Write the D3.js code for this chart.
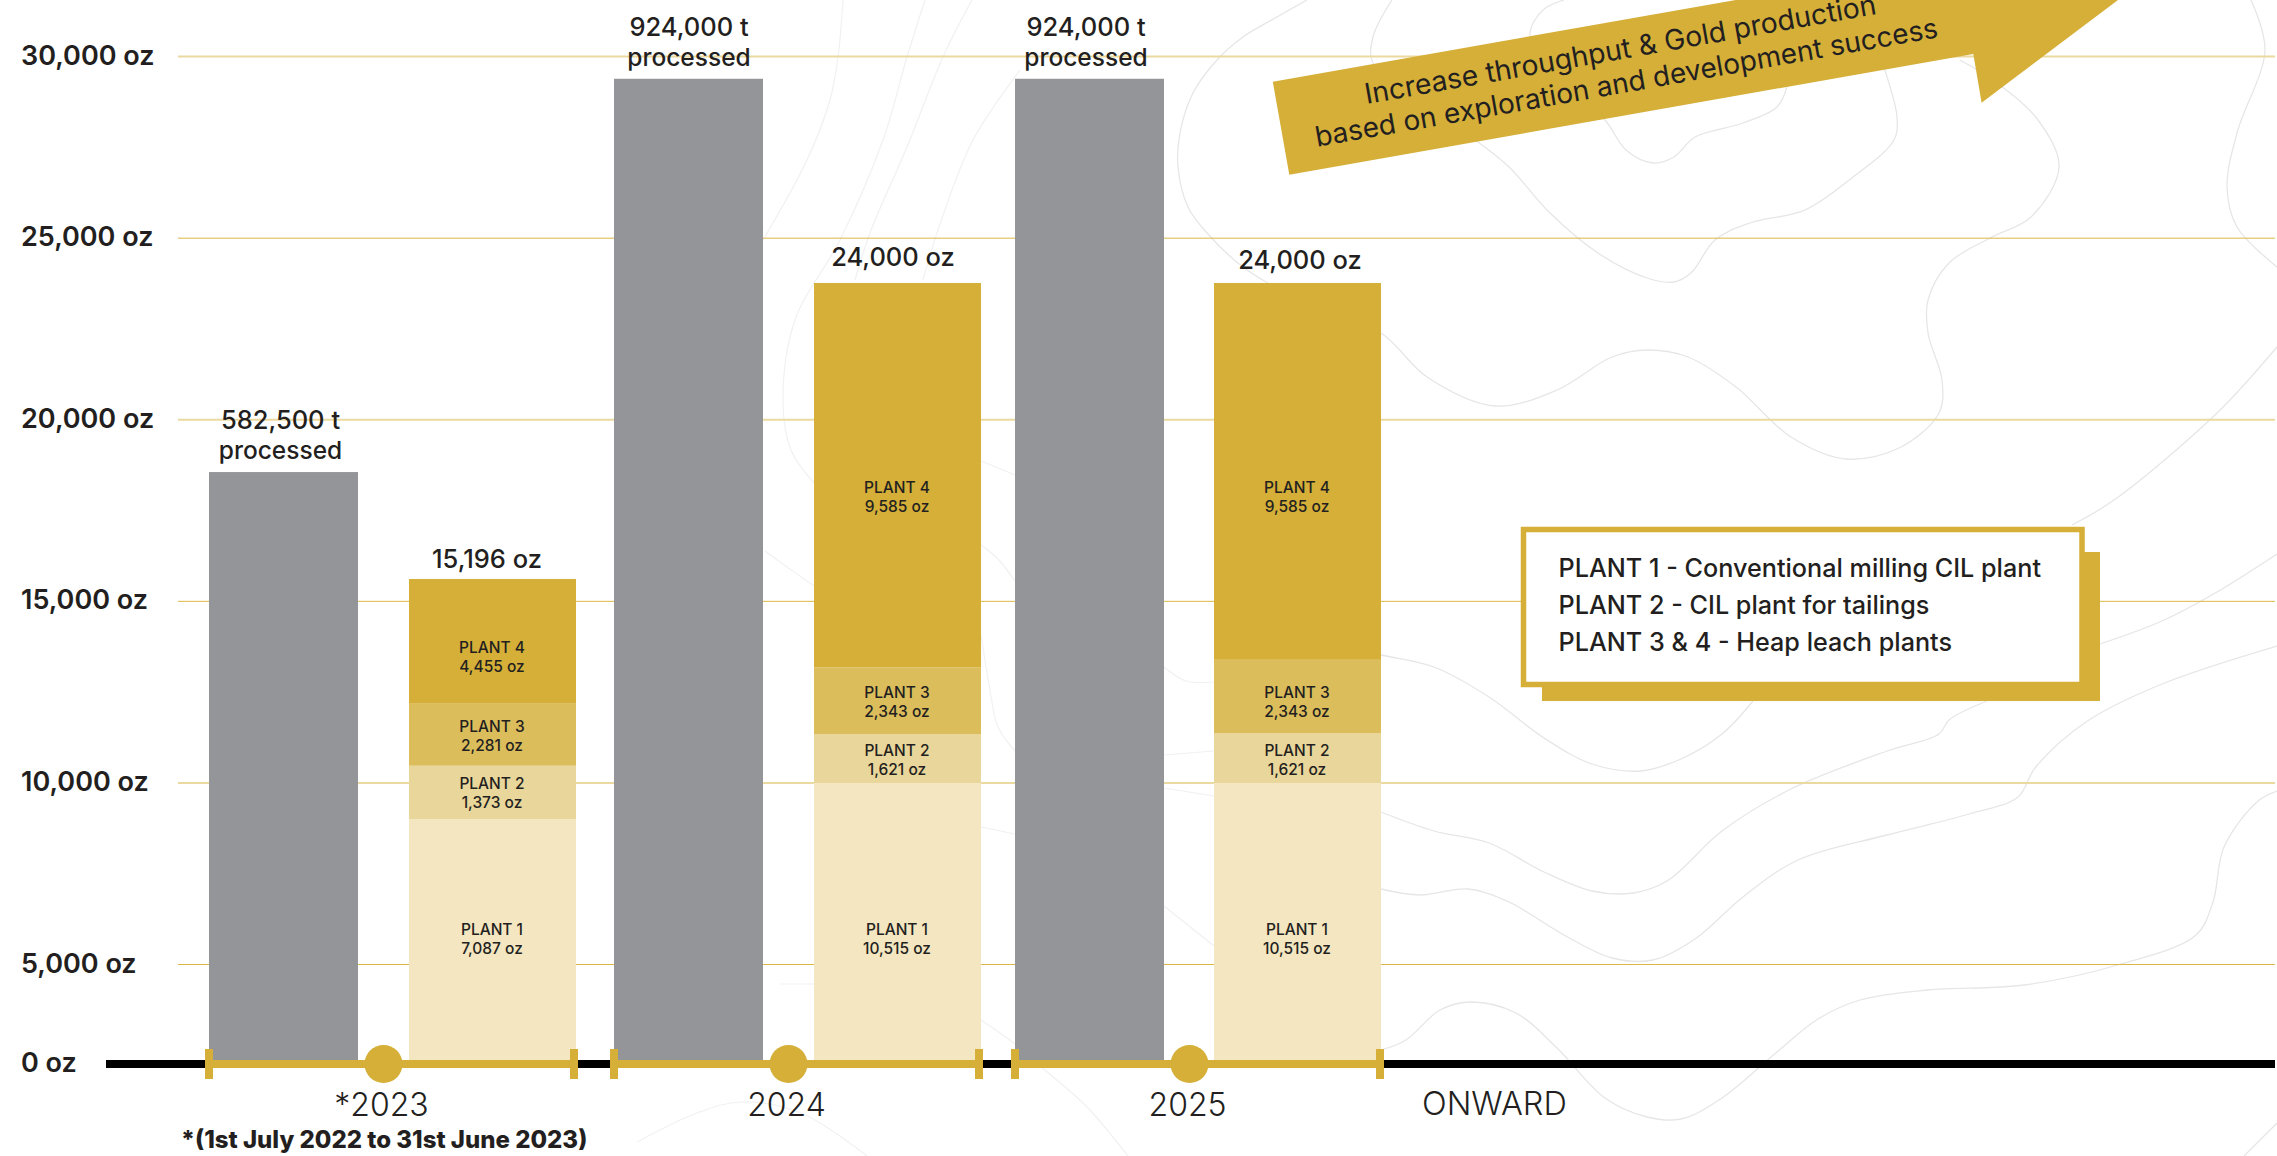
<!DOCTYPE html>
<html>
<head>
<meta charset="utf-8">
<script src="https://cdn.jsdelivr.net/npm/d3@7"></script>
<style>
  html, body { margin: 0; padding: 0; background: #fff; }
  svg { display: block; }
  text { font-family: Inter, "Open Sans", sans-serif; fill: #231f20; }
</style>
</head>
<body>
<script>
var years = ['*2023', '2024', '2025'];
var yTicks = [0, 5000, 10000, 15000, 20000, 25000, 30000];
var plantKeys = ['PLANT 1', 'PLANT 2', 'PLANT 3', 'PLANT 4'];

// the numbers printed in the chart
var tonnes = [582500, 924000, 924000];
var totalOz = [15196, 24000, 24000];
var plant1Oz = [7087, 10515, 10515];
var plant2Oz = [1373, 1621, 1621];
var plant3Oz = [2281, 2343, 2343];
var plant4Oz = [4455, 9585, 9585];

// the bars in the picture are not to scale with their labels,
// so these are the heights as read against the gridlines
var tonnesDrawn = [18560, 29390, 29390];
var plant1Drawn = [9007, 10003, 10003];
var plant2Drawn = [1467, 1344, 1371];
var plant3Drawn = [1707, 1834, 2016];
var plant4Drawn = [3434, 10585, 10376];

var keyLines = [
  'PLANT 1 - Conventional milling CIL plant',
  'PLANT 2 - CIL plant for tailings',
  'PLANT 3 & 4 - Heap leach plants'
];

// background topo lines, page pixels
var contours = [
  [[1307,0],[1277,17],[1243,37],[1217,60],[1193,93],[1180,133],[1178,167],[1188,207],[1207,233],[1243,267],[1300,300],[1381,333],[1427,377],[1495,406],[1557,390],[1612,357],[1647,350],[1688,357],[1736,387],[1791,437],[1846,459],[1901,447],[1939,413],[1942,380],[1928,333],[1928,300],[1949,263],[1990,238],[2031,217],[2059,167],[2038,120],[1997,83],[1960,60]],
  [[1392,0],[1373,37],[1373,63],[1420,100],[1478,142],[1509,167],[1550,213],[1598,253],[1647,278],[1674,282],[1691,273],[1715,240],[1750,223],[1805,210],[1853,177],[1894,140],[1897,117],[1884,67],[1875,40]],
  [[1564,0],[1543,10],[1530,33],[1540,60],[1570,90],[1605,120],[1626,150],[1653,163],[1674,157],[1695,137],[1743,123],[1777,107],[1787,87]],
  [[2251,0],[2265,50],[2237,133],[2227,187],[2237,227],[2277,267]],
  [[2277,347],[2217,413],[2114,500],[2072,525]],
  [[1300,640],[1381,655],[1434,667],[1489,697],[1544,738],[1592,764],[1640,771],[1681,759],[1722,734],[1753,701]],
  [[1381,812],[1434,831],[1489,843],[1544,872],[1592,891],[1633,893],[1667,881],[1722,831],[1791,789],[1887,751],[1939,734],[1949,720],[1987,701]],
  [[1381,889],[1420,895],[1468,889],[1509,902],[1564,935],[1612,958],[1653,960],[1695,939],[1743,897],[1798,860],[1887,835],[1969,814],[2018,797],[2035,768],[2086,722],[2162,684],[2277,646]],
  [[1381,1050],[1406,1040],[1440,1010],[1471,1002],[1516,1013],[1557,1048],[1605,1098],[1647,1117],[1681,1119],[1722,1098],[1777,1052],[1818,1019],[1860,1000],[1928,990],[2024,985],[2121,964],[2196,935],[2213,902],[2224,847],[2258,801],[2277,791]],
  [[2100,644],[2162,621],[2217,592],[2277,554]],
  [[2277,1123],[2244,1156]]
];

// the much paler lines between the bars
var faintContours = [
  [[843,0],[838,57],[830,100],[807,160],[763,240]],
  [[925,0],[907,57],[883,140],[840,240],[795,320],[783,402],[791,450],[814,483]],
  [[972,0],[943,57],[907,147],[870,233],[855,280]],
  [[1020,70],[973,140],[937,233],[923,280]],
  [[981,461],[1015,475]],
  [[981,545],[998,559],[1015,581]],
  [[981,635],[989,684],[998,727],[1015,751]],
  [[981,827],[1015,834]],
  [[981,1020],[1015,1044],[1045,1070],[1087,1107],[1128,1156]],
  [[1164,667],[1186,681],[1214,682]],
  [[1164,755],[1214,751]],
  [[1164,788],[1214,796]],
  [[1164,906],[1214,946]],
  [[765,551],[780,562],[814,586]],
  [[780,984],[814,984]],
  [[637,1142],[697,1113],[741,1102],[801,1113],[867,1156]]
];

var width = 2277;
var height = 1156;
var gold = '#d5af38';
var plantFill = d3.scaleOrdinal().domain(plantKeys).range(['#f3e6c0', '#e9d69a', '#dcbd5c', gold]);

// 0 oz sits closer to 5,000 oz than the other gridlines do to each other
var y = d3.scaleLinear().domain([0, 5000, 30000]).range([1064, 964.5, 56.6]);
var x = d3.scaleOrdinal().domain(years).range([209, 614, 1015]);
var xStack = d3.scaleOrdinal().domain(years).range([409, 814, 1214]);
var grayWidth = 149;
var stackWidth = 167;

var svg = d3.select('body').append('svg')
  .attr('width', width)
  .attr('height', height);

var line = d3.line().curve(d3.curveCatmullRom.alpha(0.5));
svg.append('g').selectAll('path').data(faintContours).enter().append('path')
  .attr('d', line)
  .attr('fill', 'none')
  .attr('stroke', '#f1f1f1')
  .attr('stroke-width', 1.2);
svg.append('g').selectAll('path').data(contours).enter().append('path')
  .attr('d', line)
  .attr('fill', 'none')
  .attr('stroke', '#e6e6e6')
  .attr('stroke-width', 1.3);

// gridlines
svg.append('g').selectAll('line').data(yTicks.slice(1)).enter().append('line')
  .attr('x1', 178)
  .attr('x2', 2275)
  .attr('y1', y)
  .attr('y2', y)
  .attr('stroke', function(d, i) { return i % 2 ? '#ebdaa0' : '#dcb746'; })
  .attr('stroke-width', function(d, i) { return i % 2 ? 2 : 1; });

svg.append('g').selectAll('text').data(yTicks).enter().append('text')
  .attr('x', 21)
  .attr('y', function(d) { return y(d) + 8; })
  .attr('font-size', 27)
  .attr('font-weight', 600)
  .text(function(d) { return d3.format(',')(d) + ' oz'; });

// tonnes bars
svg.append('g').selectAll('rect').data(years).enter().append('rect')
  .attr('x', x)
  .attr('width', grayWidth)
  .attr('y', function(d, i) { return y(tonnesDrawn[i]); })
  .attr('height', function(d, i) { return y(0) - y(tonnesDrawn[i]); })
  .attr('fill', '#949599');

// plant stacks
var stackRows = years.map(function(year, i) {
  return {
    year: year,
    'PLANT 1': plant1Drawn[i],
    'PLANT 2': plant2Drawn[i],
    'PLANT 3': plant3Drawn[i],
    'PLANT 4': plant4Drawn[i]
  };
});
var layers = d3.stack().keys(plantKeys)(stackRows);

svg.append('g').selectAll('g').data(layers).enter().append('g')
  .attr('fill', function(d) { return plantFill(d.key); })
  .selectAll('rect').data(function(d) { return d; }).enter().append('rect')
    .attr('x', function(d) { return xStack(d.data.year); })
    .attr('width', stackWidth)
    .attr('y', function(d) { return y(d[1]); })
    .attr('height', function(d) { return y(d[0]) - y(d[1]); });

// baseline
svg.append('line')
  .attr('x1', 106).attr('x2', 2275)
  .attr('y1', y(0)).attr('y2', y(0))
  .attr('stroke', '#000')
  .attr('stroke-width', 8);

var yearGroups = svg.append('g').selectAll('g').data(years).enter().append('g')
  .attr('transform', function(d) { return 'translate(' + x(d) + ',' + y(0) + ')'; });

yearGroups.append('rect')
  .attr('x', -4).attr('y', -4)
  .attr('width', 373).attr('height', 8)
  .attr('fill', gold);
yearGroups.append('rect')
  .attr('x', -4).attr('y', -15)
  .attr('width', 8).attr('height', 30)
  .attr('fill', gold);
yearGroups.append('rect')
  .attr('x', 361).attr('y', -15)
  .attr('width', 8).attr('height', 30)
  .attr('fill', gold);
yearGroups.append('circle')
  .attr('cx', 174.5)
  .attr('r', 19)
  .attr('fill', gold);
yearGroups.append('text')
  .attr('x', 172.5)
  .attr('y', 52)
  .attr('text-anchor', 'middle')
  .attr('font-size', 32)
  .attr('font-weight', 300)
  .text(function(d) { return d; });

svg.append('text')
  .attr('x', 1422).attr('y', 1115)
  .attr('font-size', 32.5)
  .attr('font-weight', 300)
  .text('ONWARD');

svg.append('text')
  .attr('x', 181).attr('y', 1148)
  .attr('font-size', 24)
  .attr('font-weight', 800)
  .text('*(1st July 2022 to 31st June 2023)');

// labels over the tonnes bars
var tonneCentre = [280.5, 689, 1086];
var tonneLabels = svg.append('g').selectAll('g').data(tonnes).enter().append('g')
  .attr('text-anchor', 'middle')
  .attr('font-weight', 500);
tonneLabels.append('text')
  .attr('x', function(d, i) { return tonneCentre[i]; })
  .attr('y', function(d, i) { return y(tonnesDrawn[i]) - 43; })
  .attr('font-size', 25.5)
  .text(function(d) { return d3.format(',')(d) + ' t'; });
tonneLabels.append('text')
  .attr('x', function(d, i) { return tonneCentre[i]; })
  .attr('y', function(d, i) { return y(tonnesDrawn[i]) - 13; })
  .attr('font-size', 24.5)
  .text('processed');

// totals over the stacks
var totalCentre = [487, 893, 1300];
var totalBaseline = [567.5, 266, 269];
svg.append('g').selectAll('text').data(totalOz).enter().append('text')
  .attr('x', function(d, i) { return totalCentre[i]; })
  .attr('y', function(d, i) { return totalBaseline[i]; })
  .attr('text-anchor', 'middle')
  .attr('font-size', 25.5)
  .attr('font-weight', 500)
  .text(function(d) { return d3.format(',')(d) + ' oz'; });

// plant labels inside the stacks, rows are plant 1 to 4
var plantOz = [plant1Oz, plant2Oz, plant3Oz, plant4Oz];
var labelBaselines = [
  [934.5, 788.5, 731.5, 652.5],
  [934.5, 756, 698, 493],
  [934.5, 756, 698, 493]
];
years.forEach(function(year, i) {
  plantKeys.forEach(function(key, k) {
    var g = svg.append('g')
      .attr('text-anchor', 'middle')
      .attr('font-size', 15.5)
      .attr('font-weight', 500);
    g.append('text')
      .attr('x', xStack(year) + stackWidth / 2 - 0.5)
      .attr('y', labelBaselines[i][k])
      .text(key);
    g.append('text')
      .attr('x', xStack(year) + stackWidth / 2 - 0.5)
      .attr('y', labelBaselines[i][k] + 19)
      .text(d3.format(',')(plantOz[k][i]) + ' oz');
  });
});

// arrow
svg.append('polygon')
  .attr('points', '1272.8,81.7 1735.7,0 2118,0 1981.6,102.7 1973.3,54 1289.3,174.7')
  .attr('fill', gold);

var arrowText = svg.append('g')
  .attr('text-anchor', 'middle')
  .attr('font-weight', 400);
arrowText.append('text')
  .attr('transform', 'translate(1622,59) rotate(-10)')
  .attr('font-size', 28.3)
  .text('Increase throughput & Gold production');
arrowText.append('text')
  .attr('transform', 'translate(1628,92) rotate(-10)')
  .attr('font-size', 28)
  .text('based on exploration and development success');

// key box
svg.append('rect')
  .attr('x', 1542).attr('y', 552)
  .attr('width', 558).attr('height', 149)
  .attr('fill', gold);
svg.append('rect')
  .attr('x', 1523.5).attr('y', 529.5)
  .attr('width', 558.5).attr('height', 155)
  .attr('fill', '#fff')
  .attr('stroke', gold)
  .attr('stroke-width', 5.5);
svg.append('g').selectAll('text').data(keyLines).enter().append('text')
  .attr('x', 1558.5)
  .attr('y', function(d, i) { return 576.6 + i * 37.2; })
  .attr('font-size', 25.2)
  .attr('font-weight', 500)
  .text(function(d) { return d; });
</script>
</body>
</html>
